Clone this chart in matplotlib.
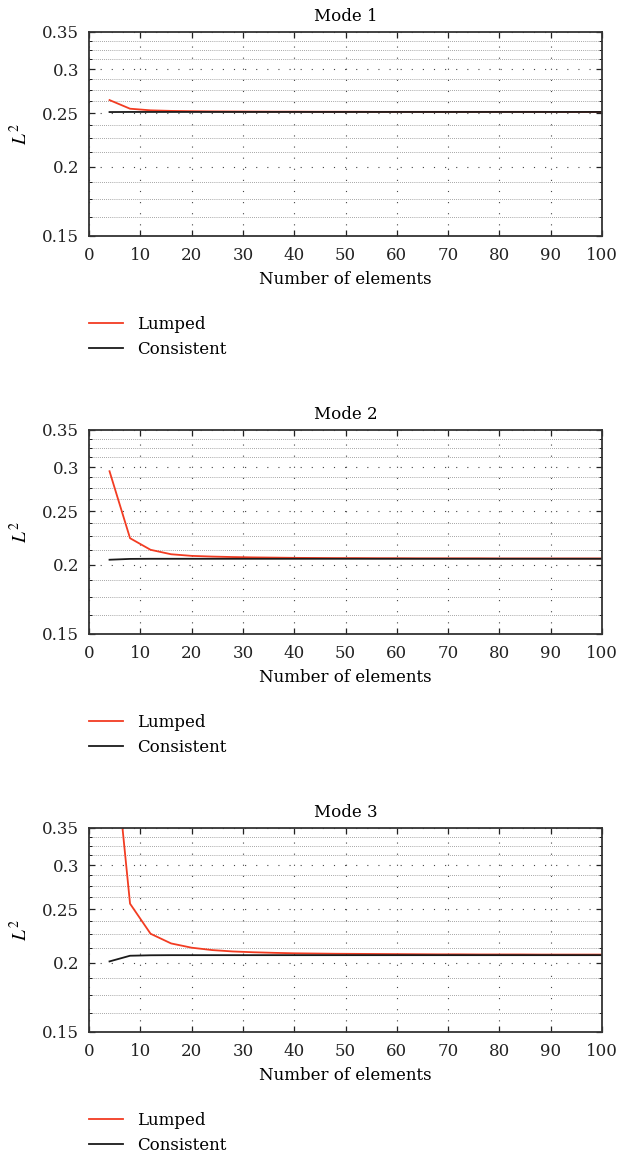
import numpy as np
import matplotlib
matplotlib.use("Agg")
import matplotlib.pyplot as plt
from matplotlib.ticker import FixedLocator, NullFormatter

plt.rcParams["font.family"] = ["DejaVu Serif"]
plt.rcParams["mathtext.fontset"] = "stix"

# number of elements
n_elem = [4, 8, 12, 16, 20, 24, 28, 32, 36, 40, 44, 48, 52, 56, 60, 64,
          68, 72, 76, 80, 84, 88, 92, 96, 100]

# L^2 values
mode1_lumped = [0.2638, 0.2545, 0.2528, 0.2522, 0.2519, 0.2517, 0.2516, 0.2515,
                0.2514, 0.2514, 0.2513, 0.2513, 0.2513, 0.2512, 0.2512, 0.2512,
                0.2512, 0.2512, 0.2512, 0.2512, 0.2512, 0.2512, 0.2511, 0.2511, 0.2511]
mode1_consistent = [0.2510, 0.2511, 0.2511, 0.2511, 0.2511, 0.2511, 0.2511, 0.2511,
                    0.2511, 0.2511, 0.2511, 0.2511, 0.2511, 0.2511, 0.2511, 0.2511,
                    0.2511, 0.2511, 0.2511, 0.2511, 0.2511, 0.2511, 0.2511, 0.2511, 0.2511]

mode2_lumped = [0.2949, 0.2233, 0.2128, 0.2089, 0.2075, 0.2069, 0.2065, 0.2062,
                0.2060, 0.2058, 0.2057, 0.2056, 0.2056, 0.2055, 0.2055, 0.2054,
                0.2054, 0.2054, 0.2054, 0.2053, 0.2053, 0.2053, 0.2053, 0.2053, 0.2053]
mode2_consistent = [0.2042, 0.2049, 0.2050, 0.2050, 0.2050, 0.2050, 0.2050, 0.2050,
                    0.2050, 0.2050, 0.2050, 0.2050, 0.2050, 0.2050, 0.2050, 0.2050,
                    0.2050, 0.2050, 0.2050, 0.2050, 0.2050, 0.2050, 0.2050, 0.2050, 0.2050]

mode3_lumped = [0.600, 0.2556, 0.2256, 0.2167, 0.2129, 0.2108, 0.2096, 0.2089,
                0.2084, 0.2080, 0.2078, 0.2076, 0.2075, 0.2074, 0.2073, 0.2072,
                0.2071, 0.2071, 0.2070, 0.2070, 0.2070, 0.2069, 0.2069, 0.2069, 0.2069]
mode3_consistent = [0.2011, 0.2059, 0.2063, 0.2064, 0.2064, 0.2064, 0.2064, 0.2064,
                    0.2064, 0.2064, 0.2064, 0.2064, 0.2064, 0.2064, 0.2064, 0.2064,
                    0.2064, 0.2064, 0.2064, 0.2064, 0.2064, 0.2064, 0.2064, 0.2064, 0.2064]

modes = [("Mode 1", mode1_lumped, mode1_consistent),
         ("Mode 2", mode2_lumped, mode2_consistent),
         ("Mode 3", mode3_lumped, mode3_consistent)]

y_ticks = [0.15, 0.2, 0.25, 0.3, 0.35]
y_tick_labels = ["0.15", "0.2", "0.25", "0.3", "0.35"]
x_ticks = [0, 10, 20, 30, 40, 50, 60, 70, 80, 90, 100]

W, H = 617, 1160
fig = plt.figure(figsize=(W / 100, H / 100), dpi=100)

left, right = 89, 602
tops = [32, 430, 828]
ax_h = 204
fs = 12

minor_y = [0.1625, 0.175, 0.1875, 0.2125, 0.225, 0.2375, 0.2625, 0.275,
           0.2875, 0.3125, 0.325, 0.3375]

for (title, lumped, consistent), top in zip(modes, tops):
    ax = fig.add_axes([left / W, 1 - (top + ax_h) / H, (right - left) / W, ax_h / H])
    ax.plot(n_elem, lumped, color="#f23c22", lw=1.3, label="Lumped")
    ax.plot(n_elem, consistent, color="#1a1a1a", lw=1.3, label="Consistent")
    ax.set_yscale("log")
    ax.set_ylim(0.15, 0.35)
    ax.set_xlim(0, 100)
    ax.yaxis.set_major_locator(FixedLocator(y_ticks))
    ax.set_yticklabels(y_tick_labels)
    ax.yaxis.set_minor_locator(FixedLocator(minor_y))
    ax.yaxis.set_minor_formatter(NullFormatter())
    ax.set_xticks(x_ticks)

    ax.grid(True, which="major", axis="both", color="#444444", lw=0.8,
            linestyle=(0, (1, 9)))
    ax.grid(True, which="minor", axis="y", color="#888888", lw=0.6,
            linestyle=(0, (1, 1.5)))
    ax.set_axisbelow(True)

    ax.tick_params(which="major", direction="in", length=4, width=0.9,
                   top=True, right=True, labelsize=fs, colors="#222222")
    ax.tick_params(axis="y", which="major", pad=7)
    ax.tick_params(axis="x", which="major", pad=8)
    ax.tick_params(which="minor", direction="in", length=2, width=0.6,
                   left=True, right=True)
    for sp in ax.spines.values():
        sp.set_linewidth(1.3)
        sp.set_color("#333333")

    ax.set_title(title, fontsize=fs, pad=8)
    ax.set_xlabel("Number of elements", fontsize=fs, labelpad=5)
    ax.set_ylabel("$L^2$", fontsize=fs + 2, labelpad=8)

    ax.legend(loc="upper left",
              bbox_to_anchor=(left / W, 1 - (top + ax_h + 80) / H),
              bbox_transform=fig.transFigure, frameon=False, fontsize=fs,
              handlelength=2.05, handletextpad=0.84, labelspacing=0.45,
              borderpad=0, borderaxespad=0)

fig.savefig("out.png", dpi=100)
